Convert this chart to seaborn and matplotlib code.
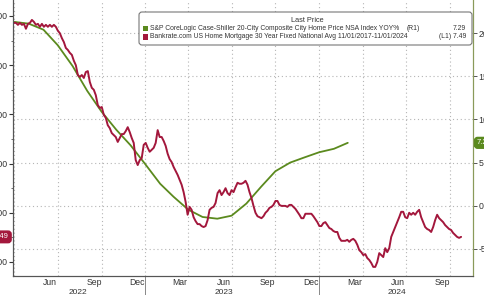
import numpy as np
import pandas as pd
import matplotlib
matplotlib.use("Agg")
import matplotlib.pyplot as plt
import matplotlib.dates as mdates
import matplotlib.ticker as mticker
from matplotlib.patches import FancyBboxPatch, Rectangle
from matplotlib.transforms import IdentityTransform, blended_transform_factory
import seaborn as sns

# ---------------- data ----------------
green_start = "2022-04-01"   # monthly, Case-Shiller YoY % (right axis)
green_yoy = [21.3, 21.1, 20.4, 18.6, 16.2, 13.3, 10.9, 8.8, 7.0, 4.8, 2.55, 1.05,
             -0.45, -1.3, -1.5, -1.15, 0.25, 2.2, 4.0, 5.0, 5.6, 6.2, 6.6, 7.29]

red_start, red_end = "2022-03-31", "2024-10-25"   # evenly spaced readings, mortgage rate % (left axis, inverted)
red_rate = [3.14, 3.14, 3.18, 3.14, 3.18, 3.16, 3.26, 3.16, 3.14, 3.08, 3.12, 3.18, 3.16, 3.22, 3.16,
            3.22, 3.18, 3.22, 3.18, 3.22, 3.18, 3.22, 3.30, 3.35, 3.45, 3.53, 3.65, 3.69, 3.75, 3.79,
            3.91, 4.00, 4.20, 4.24, 4.20, 4.26, 4.14, 4.12, 4.34, 4.46, 4.50, 4.61, 4.81, 4.87, 4.85,
            5.01, 5.07, 5.22, 5.28, 5.38, 5.42, 5.46, 5.56, 5.48, 5.40, 5.40, 5.34, 5.26, 5.36, 5.48,
            5.58, 5.93, 6.03, 5.93, 5.89, 5.62, 5.58, 5.68, 5.76, 5.72, 5.68, 5.58, 5.32, 5.46, 5.46,
            5.54, 5.64, 5.80, 5.91, 5.97, 6.07, 6.15, 6.23, 6.33, 6.43, 6.58, 6.78, 7.04, 6.88, 6.94,
            7.09, 7.17, 7.23, 7.23, 7.27, 7.29, 7.27, 7.15, 6.94, 6.90, 6.88, 6.80, 6.60, 6.54, 6.64,
            6.58, 6.50, 6.60, 6.64, 6.54, 6.58, 6.48, 6.39, 6.41, 6.41, 6.39, 6.35, 6.43, 6.58, 6.70,
            6.86, 7.00, 7.07, 7.09, 7.11, 7.07, 7.00, 6.96, 6.90, 6.88, 6.84, 6.76, 6.76, 6.84, 6.86,
            6.86, 6.86, 6.88, 6.84, 6.84, 6.88, 6.92, 6.98, 7.04, 7.11, 7.11, 7.02, 7.02, 7.02, 7.02,
            7.07, 7.13, 7.19, 7.27, 7.27, 7.21, 7.19, 7.25, 7.31, 7.33, 7.37, 7.39, 7.39, 7.51, 7.57,
            7.57, 7.57, 7.55, 7.59, 7.55, 7.53, 7.57, 7.65, 7.76, 7.80, 7.86, 7.84, 7.92, 7.96, 8.02,
            8.10, 8.10, 8.00, 7.82, 7.86, 7.90, 7.72, 7.80, 7.72, 7.49, 7.39, 7.29, 7.19, 7.09, 6.98,
            6.98, 7.09, 7.11, 7.00, 7.04, 7.00, 7.04, 6.98, 6.94, 7.09, 7.19, 7.29, 7.33, 7.35, 7.39,
            7.29, 7.15, 7.04, 7.11, 7.15, 7.19, 7.25, 7.29, 7.33, 7.35, 7.41, 7.45, 7.49, 7.51, 7.49]

green_name = "S&P CoreLogic Case-Shiller 20-City Composite City Home Price NSA Index YOY%"
red_name = "Bankrate.com US Home Mortgage 30 Year Fixed National Avg 11/01/2017-11/01/2024"
legend_title = "Last Price"
green_last, red_last = 7.29, 7.49
left_ticks = [3, 4, 5, 6, 7, 8]
right_ticks = [-5, 0, 5, 10, 15, 20]
year_labels = [("2022", "2022-08-12"), ("2023", "2023-06-15"), ("2024", "2024-06-12")]

GREEN = "#5b8a1e"
RED = "#a3173c"
TXT = "#333333"
GRID = "#b5b5b5"
FONT = ["Liberation Sans", "DejaVu Sans"]

# ---------------- figure ----------------
sns.set_style("white")
plt.rcParams["font.family"] = FONT
W, H = 485, 295
fig = plt.figure(figsize=(W / 100, H / 100), dpi=100)
fig.patch.set_facecolor("white")

def fx(px):
    return px / W

def fy(py):
    return 1 - py / H

ax = fig.add_axes([fx(13), fy(276), fx(473) - fx(13), fy(0) - fy(276)])
ax2 = ax.twinx()

df_green = pd.DataFrame({"date": pd.date_range(green_start, periods=len(green_yoy), freq="MS"),
                         "yoy": green_yoy})
df_red = pd.DataFrame({"date": pd.date_range(red_start, red_end, periods=len(red_rate)),
                       "rate": red_rate})

sns.lineplot(data=df_green, x="date", y="yoy", ax=ax, color=GREEN, lw=1.3)
sns.lineplot(data=df_red, x="date", y="rate", ax=ax2, color=RED, lw=1.4)

# x axis
ax.set_xlim(pd.Timestamp("2022-03-29"), pd.Timestamp("2024-11-19"))
ax.xaxis.set_major_locator(mdates.MonthLocator())
ax.xaxis.set_major_formatter(mticker.NullFormatter())
ax.xaxis.set_minor_locator(mdates.MonthLocator(bymonth=[3, 6, 9, 12], bymonthday=15))
ax.xaxis.set_minor_formatter(mdates.DateFormatter("%b"))
ax.tick_params(axis="x", which="major", length=2.5, width=0.6, color="#555555", direction="out")
ax.tick_params(axis="x", which="minor", length=0, pad=1.2, labelsize=6.2, labelcolor=TXT)
ax.set_xlabel("")

# right axis (YoY)
ax.yaxis.tick_right()
ax.set_ylim(-8.14, 23.84)
ax.set_yticks(right_ticks)
ax.set_yticklabels([str(t) for t in right_ticks])
ax.tick_params(axis="y", which="major", length=3, width=0.7, color="#555555", pad=1,
               labelsize=6.3, labelcolor=TXT, right=True, left=False)
ax.set_ylabel("")
ax.yaxis.grid(True, ls=(0, (1, 2.5)), color=GRID, lw=0.8)
ax.xaxis.grid(False)
for q in pd.date_range("2022-04-01", "2024-10-01", freq="QS"):
    ax.axvline(q, ls=(0, (1, 2.5)), color=GRID, lw=0.8, zorder=0)

# left axis (rate, inverted)
ax2.yaxis.tick_left()
ax2.set_ylim(8.285, 2.675)
ax2.set_yticks(left_ticks)
ax2.set_yticklabels([f"{t:.2f}" for t in left_ticks])
ax2.yaxis.set_minor_locator(mticker.MultipleLocator(0.5))
ax2.tick_params(axis="y", which="major", length=3, width=0.8, color="#333333", pad=1,
                labelsize=6.3, labelcolor=TXT, left=True, right=False)
ax2.tick_params(axis="y", which="minor", length=1.8, width=0.6, color="#555555", left=True, right=False)
ax2.set_ylabel("")

for a in (ax, ax2):
    a.spines["top"].set_visible(False)
    a.spines["left"].set_color("#555555")
    a.spines["bottom"].set_color("#555555")
    a.spines["right"].set_color("#8a9a5a")
    for s in a.spines.values():
        s.set_linewidth(0.8)

# year separators and labels
bt = blended_transform_factory(ax.transData, ax.transAxes)
for d in ["2023-01-01", "2024-01-01"]:
    ax.plot([pd.Timestamp(d)] * 2, [0, -0.075], transform=bt, color="#888888", lw=0.7, clip_on=False)
for lab, d in year_labels:
    ax.text(pd.Timestamp(d), -0.058, lab, transform=bt, ha="center", va="center",
            fontsize=6.0, color=TXT)

# last value tags
ax.annotate(f"{green_last:.2f}", xy=(1, green_last), xycoords=("axes fraction", "data"),
            xytext=(2.5, 0), textcoords="offset points", ha="left", va="center",
            fontsize=5.5, color="white", annotation_clip=False,
            bbox=dict(boxstyle="round,pad=0.25,rounding_size=0.4", fc=GREEN, ec=GREEN))
ax2.annotate(f"{red_last:.2f}", xy=(0, red_last), xycoords=("axes fraction", "data"),
             xytext=(-3, 0), textcoords="offset points", ha="right", va="center",
             fontsize=5.5, color="white", annotation_clip=False,
             bbox=dict(boxstyle="round,pad=0.3,rounding_size=0.4", fc=RED, ec=RED))

# legend box
box = FancyBboxPatch((139, H - 45), 333, 33, boxstyle="round,pad=0,rounding_size=3",
                     transform=IdentityTransform(), fc="white", ec="#777777", lw=0.8, zorder=10)
fig.patches.append(box)
fs = 4.9
fig.text(fx(307), fy(20.5), legend_title, ha="center", va="center", fontsize=fs + 0.4, color=TXT, zorder=11)
for yy, col in [(28.5, GREEN), (37, RED)]:
    fig.patches.append(Rectangle((142.5, H - yy - 2.8), 5.5, 5.5, transform=IdentityTransform(),
                                 fc=col, ec="none", zorder=11))
fig.text(fx(150), fy(28.5), green_name, ha="left", va="center", fontsize=fs, color=TXT, zorder=11)
fig.text(fx(407), fy(28.5), "(R1)", ha="left", va="center", fontsize=fs, color=TXT, zorder=11)
fig.text(fx(466), fy(28.5), f"{green_last:.2f}", ha="right", va="center", fontsize=fs, color=TXT, zorder=11)
fig.text(fx(150), fy(37), red_name, ha="left", va="center", fontsize=fs, color=TXT, zorder=11)
fig.text(fx(466), fy(37), f"(L1) {red_last:.2f}", ha="right", va="center", fontsize=fs, color=TXT, zorder=11)

fig.savefig("out.png", dpi=100, facecolor="white")
